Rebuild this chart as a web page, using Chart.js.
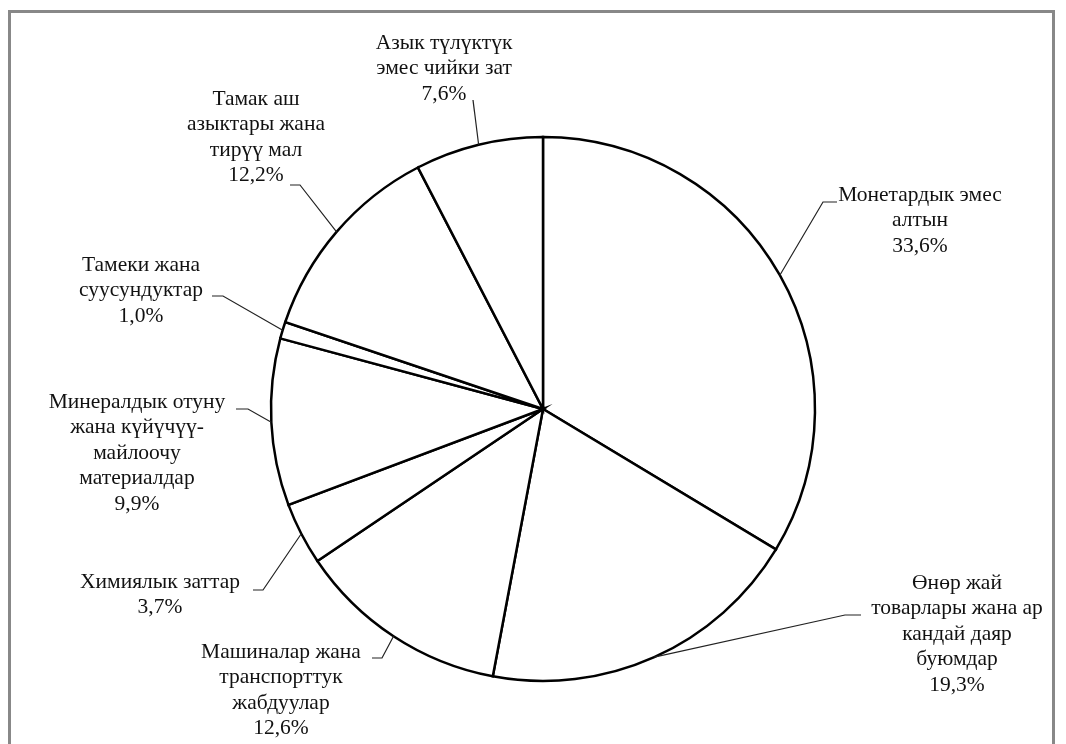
<!DOCTYPE html>
<html>
<head>
<meta charset="utf-8">
<script src="https://cdn.jsdelivr.net/npm/chart.js@4"></script>
<style>
  html, body { margin: 0; padding: 0; background: #fff; overflow: hidden; }
  #frame {
    position: absolute; left: 8px; top: 10px; width: 1047px; height: 760px;
    border: 3px solid #888; box-sizing: border-box;
  }
  #pieChart { position: absolute; left: 0; top: 0; }
</style>
</head>
<body>
<div id="frame"></div>
<canvas id="pieChart" width="1066" height="744"></canvas>
<script>
// Categories (each one split into the lines shown on the chart)
const categories = [
  ["Монетардык эмес", "алтын"],
  ["Өнөр жай", "товарлары жана ар", "кандай даяр", "буюмдар"],
  ["Машиналар жана", "транспорттук", "жабдуулар"],
  ["Химиялык заттар"],
  ["Минералдык отуну", "жана күйүчүү-", "майлоочу", "материалдар"],
  ["Тамеки жана", "суусундуктар"],
  ["Тамак аш", "азыктары жана", "тирүү мал"],
  ["Азык түлүктүк", "эмес чийки зат"]
];

// Share of each category, percent
const shares = [33.6, 19.3, 12.6, 3.7, 9.9, 1.0, 12.2, 7.6];

// Where each label block sits: text centre x, first line y,
// and the two leader points on the text side (text end, elbow)
const labelLayout = [
  { x: 920, y: 195, p1: [837, 202], p2: [823, 202] },
  { x: 957, y: 583, p1: [861, 615], p2: [845, 615] },
  { x: 281, y: 652, p1: [372, 658], p2: [382, 658] },
  { x: 160, y: 582, p1: [253, 590], p2: [263, 590] },
  { x: 137, y: 402, p1: [236, 409], p2: [248, 409] },
  { x: 141, y: 265, p1: [212, 296], p2: [223, 296] },
  { x: 256, y: 99,  p1: [290, 185], p2: [300, 185] },
  { x: 444, y: 43,  p1: [473, 100], p2: [473, 100] }
];

const lineGap = 25.5;
const fontSpec = "21.5px 'Liberation Serif', 'Times New Roman', serif";

const formatShare = (v) => v.toFixed(1).replace(".", ",") + "%";

const outsideLabels = {
  id: "outsideLabels",
  afterDatasetsDraw(chart) {
    const ctx = chart.ctx;
    const arcs = chart.getDatasetMeta(0).data;
    ctx.save();

    // leader lines
    ctx.strokeStyle = "#222";
    ctx.lineWidth = 1.2;
    arcs.forEach((arc, i) => {
      const mid = (arc.startAngle + arc.endAngle) / 2;
      const ax = arc.x + Math.cos(mid) * arc.outerRadius;
      const ay = arc.y + Math.sin(mid) * arc.outerRadius;
      const lay = labelLayout[i];
      ctx.beginPath();
      ctx.moveTo(lay.p1[0], lay.p1[1]);
      ctx.lineTo(lay.p2[0], lay.p2[1]);
      ctx.lineTo(ax, ay);
      ctx.stroke();
    });

    // label text
    ctx.fillStyle = "#111";
    ctx.font = fontSpec;
    ctx.textAlign = "center";
    ctx.textBaseline = "middle";
    categories.forEach((lines, i) => {
      const lay = labelLayout[i];
      const all = lines.concat([formatShare(shares[i])]);
      all.forEach((txt, k) => {
        ctx.fillText(txt, lay.x, lay.y + k * lineGap);
      });
    });

    ctx.restore();
  }
};

const pieChart = new Chart("pieChart", {
  type: "pie",
  data: {
    labels: categories,
    datasets: [{
      data: shares,
      backgroundColor: "#ffffff",
      borderColor: "#000000",
      borderWidth: 2.5,
      borderJoinStyle: "miter"
    }]
  },
  options: {
    responsive: false,
    animation: false,
    radius: 272,
    layout: { padding: { left: 20, right: 0, top: 74, bottom: 0 } },
    plugins: {
      legend: { display: false },
      tooltip: { enabled: false }
    }
  },
  plugins: [outsideLabels]
});
</script>
</body>
</html>
